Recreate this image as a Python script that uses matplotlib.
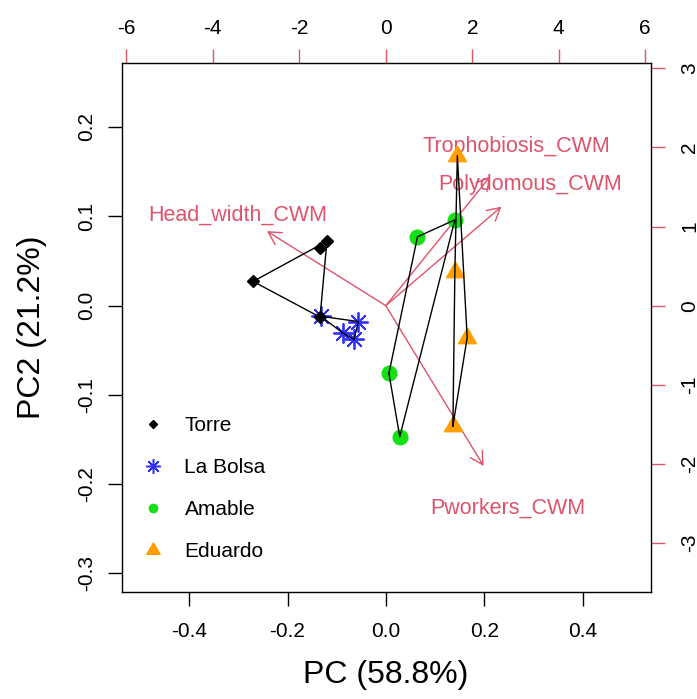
import numpy as np
import matplotlib
matplotlib.use("Agg")
import matplotlib.pyplot as plt
from matplotlib.lines import Line2D
from matplotlib.patches import FancyArrowPatch

plt.rcParams['font.family'] = ['Liberation Sans', 'DejaVu Sans']

# ---- data -------------------------------------------------------------
site_names = ["Torre", "La Bolsa", "Amable", "Eduardo"]

torre_x = [-0.270, -0.134, -0.120, -0.134]
torre_y = [0.027, 0.064, 0.072, -0.013]
bolsa_x = [-0.133, -0.056, -0.087, -0.065]
bolsa_y = [-0.012, -0.018, -0.031, -0.038]
amable_x = [0.064, 0.140, 0.006, 0.028]
amable_y = [0.077, 0.096, -0.076, -0.147]
eduardo_x = [0.145, 0.140, 0.165, 0.136]
eduardo_y = [0.168, 0.038, -0.036, -0.135]

var_names = ["Head_width_CWM", "Trophobiosis_CWM", "Polydomous_CWM", "Pworkers_CWM"]
var_x = [-3.433, 3.021, 3.340, 2.827]
var_y = [1.178, 2.044, 1.564, -2.532]

x_ticks = [-0.4, -0.2, 0.0, 0.2, 0.4]
y_ticks = [-0.3, -0.2, -0.1, 0.0, 0.1, 0.2]
top_ticks = [-6, -4, -2, 0, 2, 4, 6]
right_ticks = [-3, -2, -1, 0, 1, 2, 3]

xlabel = "PC (58.8%)"
ylabel = "PC2 (21.2%)"

# ---- styles -----------------------------------------------------------
RED = "#DF536B"
BLUE = "#2F2FFF"
GREEN = "#14E014"
ORANGE = "#FFA000"
TRI = [(0, 1.5551), (1.3468, -0.7776), (-1.3468, -0.7776), (0, 1.5551)]


def hull(xs, ys):
    pts = sorted(set(zip(xs, ys)))
    if len(pts) < 3:
        return pts

    def cross(o, a, b):
        return (a[0] - o[0]) * (b[1] - o[1]) - (a[1] - o[1]) * (b[0] - o[0])
    lower, upper = [], []
    for p in pts:
        while len(lower) >= 2 and cross(lower[-2], lower[-1], p) <= 0:
            lower.pop()
        lower.append(p)
    for p in reversed(pts):
        while len(upper) >= 2 and cross(upper[-2], upper[-1], p) <= 0:
            upper.pop()
        upper.append(p)
    h = lower[:-1] + upper[:-1]
    return h + [h[0]]


W, H = 697, 699
fig = plt.figure(figsize=(W / 100, H / 100), dpi=100)
L, R, T, B = 121.7, 650.5, 63.0, 592.3
rect = [L / W, (H - B) / H, (R - L) / W, (B - T) / H]

# secondary (variable) axes underneath
ax2 = fig.add_axes(rect, frameon=False)
ax2.set_zorder(0)
ax = fig.add_axes(rect)
ax.set_zorder(1)
ax.patch.set_visible(False)

ax.set_xlim(-0.537, 0.5375)
ax.set_ylim(-0.3213, 0.2717)
ax2.set_xlim(-6.105, 6.12)
ax2.set_ylim(-3.623, 3.068)

# primary axes ticks
ax.set_xticks(x_ticks, labels=[f"{v:.1f}" for v in x_ticks])
ax.set_yticks(y_ticks, labels=[f"{v:.1f}" for v in y_ticks], rotation=90, va='center')
ax.tick_params(axis='x', direction='out', length=10, width=1, pad=11.5, labelsize=15)
ax.tick_params(axis='y', direction='out', length=10, width=1, pad=8.3, labelsize=15)
for s in ax.spines.values():
    s.set_linewidth(1.0)
    s.set_color('black')

# secondary axes ticks
ax2.xaxis.set_ticks_position('top')
ax2.xaxis.set_label_position('top')
ax2.yaxis.set_ticks_position('right')
ax2.yaxis.set_label_position('right')
ax2.set_xticks(top_ticks, labels=[str(v) for v in top_ticks])
ax2.set_yticks(right_ticks, labels=[str(v) for v in right_ticks], rotation=90, va='center')
ax2.tick_params(axis='x', direction='out', length=10, width=1, pad=8.3, labelsize=15,
                color=RED, labelcolor='black')
ax2.tick_params(axis='y', direction='out', length=10, width=1, pad=11.5, labelsize=15,
                color=RED, labelcolor='black')

# arrows and variable labels
for name, vx, vy in zip(var_names, var_x, var_y):
    arr = FancyArrowPatch((0, 0), (0.8 * vx, 0.8 * vy),
                          arrowstyle='->,head_length=0.9,head_width=0.5',
                          mutation_scale=10, color=RED, lw=1.0,
                          shrinkA=0, shrinkB=0)
    ax2.add_patch(arr)
    ax2.text(vx, vy, name, color=RED, ha='center', va='center_baseline', fontsize=15.5)

# site points
ax.plot(bolsa_x, bolsa_y, ls='none', marker=(8, 2, 0), ms=14.4, mew=1.3,
        color=BLUE, zorder=3)
ax.plot(torre_x, torre_y, ls='none', marker='D', ms=6.6, color='black', zorder=3)
ax.plot(amable_x, amable_y, ls='none', marker='o', ms=10.5, color=GREEN, zorder=3)
ax.plot(eduardo_x, eduardo_y, ls='none', marker=TRI, ms=15, color=ORANGE, zorder=3)

# convex hulls
for xs, ys in [(torre_x, torre_y), (bolsa_x, bolsa_y),
               (amable_x, amable_y), (eduardo_x, eduardo_y)]:
    h = hull(xs, ys)
    ax.plot([p[0] for p in h], [p[1] for p in h], color='black', lw=1.0, zorder=4)

ax.set_xlabel(xlabel, fontsize=23, labelpad=13.4)
ax.set_ylabel(ylabel, fontsize=23, labelpad=22)

handles = [
    Line2D([], [], ls='none', marker='D', ms=4.1, color='black'),
    Line2D([], [], ls='none', marker=(8, 2, 0), ms=10.5, mew=1.1, color=BLUE),
    Line2D([], [], ls='none', marker='o', ms=6, color=GREEN),
    Line2D([], [], ls='none', marker=TRI, ms=11, color=ORANGE),
]
ax.legend(handles, site_names, loc='upper left',
          bbox_to_anchor=((142.8 - L) / (R - L), (B - 416.3) / (B - T)),
          frameon=False, fontsize=15, handlelength=1.0, handletextpad=1.0,
          labelspacing=1.1, borderpad=0, borderaxespad=0)

fig.savefig("out.png", dpi=100)
